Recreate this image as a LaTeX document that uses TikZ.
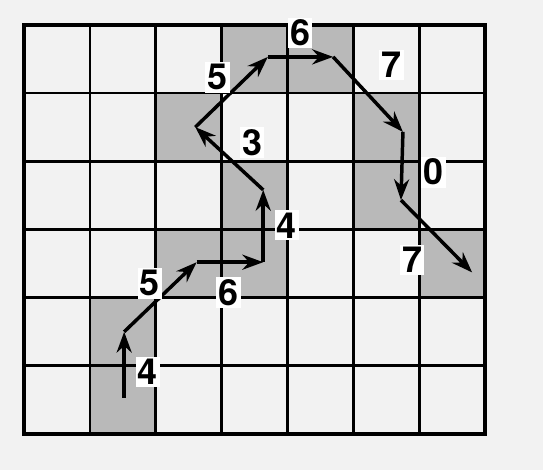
\documentclass[tikz,border=0pt]{standalone}
\usepackage{fontspec}
\setsansfont{TeX Gyre Heros}
\usetikzlibrary{arrows.meta}
\definecolor{cPaper}{RGB}{242,242,242}
\definecolor{cShade}{RGB}{185,185,185}
\tikzset{
  shadecell/.style={fill=cShade},
  gridline/.style={line width=1.2pt,color=black},
  chainarr/.style={-{Stealth[length=9pt,width=6.5pt]},line width=1.5pt},
  codelbl/.style={fill=white,inner sep=1pt,
                  font=\sffamily\bfseries\fontsize{15.5}{17}\selectfont}
}

\begin{document}
\begin{tikzpicture}[x=1cm,y=1.035cm]

  % Page
  \fill[cPaper] (-0.364,-0.528) rectangle (7.875,6.364);
  \useasboundingbox (-0.364,-0.528) rectangle (7.875,6.364);

  % Shaded cells along the chain
  \foreach \c/\r in {1/0,1/1,2/2,3/2,3/3,2/4,3/5,4/5,5/4,5/3,6/2}
    \fill[shadecell] (\c,\r) rectangle ++(1,1);

  % Grid
  \draw[gridline] (0,0) grid[step={(1,1)}] (7,6);
  \draw[line width=1.8pt] (0,0) rectangle (7,6);

  % Chain points
  \coordinate (p0) at (1.52,0.53);
  \coordinate (p1) at (1.52,1.50);
  \coordinate (p2) at (2.62,2.52);
  \coordinate (p3) at (3.63,2.52);
  \coordinate (p4) at (3.63,3.58);
  \coordinate (p5) at (2.60,4.50);
  \coordinate (p6) at (3.70,5.53);
  \coordinate (p7) at (4.69,5.53);
  \coordinate (p8) at (5.75,4.43);
  \coordinate (p9) at (5.72,3.43);
  \coordinate (p10) at (6.80,2.37);

  % Arrows
  \foreach \a/\b in {p0/p1,p1/p2,p2/p3,p3/p4,p4/p5,
                     p5/p6,p6/p7,p7/p8,p8/p9,p9/p10}
    \draw[chainarr] (\a) -- (\b);

  % Codes
  \node[codelbl] (c1) at (1.88,0.91) {4};
  \node[codelbl] (c2) at (1.91,2.21) {5};
  \node[codelbl] (c3) at (3.10,2.07) {6};
  \node[codelbl] (c4) at (3.99,3.06) {4};
  \node[codelbl] (c5) at (3.46,4.27) {3};
  \node[codelbl] (c6) at (2.94,5.23) {5};
  \node[codelbl] (c7) at (4.19,5.88) {6};
  \node[codelbl] (c8) at (5.58,5.41) {7};
  \node[codelbl] (c9) at (6.21,3.84) {0};
  \node[codelbl] (c10) at (5.89,2.55) {7};

\end{tikzpicture}
\end{document}
